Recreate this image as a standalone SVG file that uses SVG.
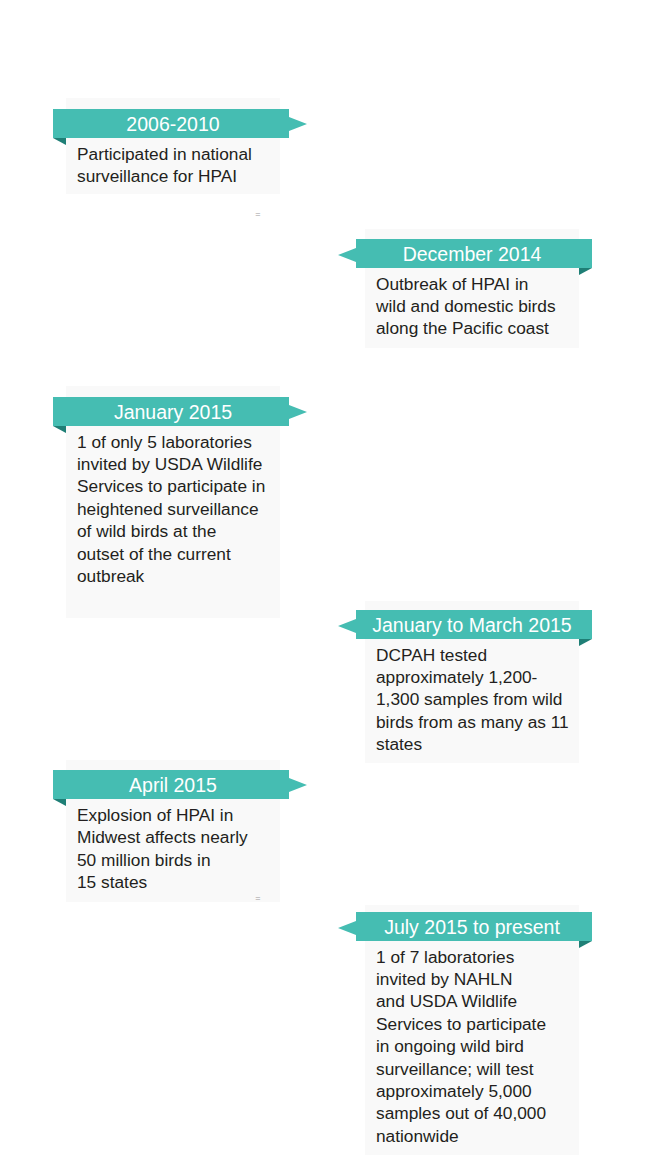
<svg xmlns="http://www.w3.org/2000/svg" width="650" height="1164" viewBox="0 0 650 1164">
<style>
.card{fill:#f9f9f9}
.band{fill:#45bdb2}
.fold{fill:#1f7f76}
.title{font-family:"Liberation Sans",Arial,sans-serif;font-size:19.5px;fill:#ffffff;text-anchor:middle}
.body{font-family:"Liberation Sans",Arial,sans-serif;font-size:17.3px;fill:#231f20}
.mark{font-family:"Liberation Sans",Arial,sans-serif;font-size:9px;fill:#9a9a9a;text-anchor:middle}
</style>
<rect width="650" height="1164" fill="#ffffff"/>
<g id="node-2006">
<rect class="card" x="66" y="98" width="214" height="96"/>
<path class="band" d="M53 109H289V117L307 124L289 131V138H53Z"/>
<path class="fold" d="M53 138H66V145Z"/>
<text class="title" x="173" y="131">2006-2010</text>
<text class="body" x="77" y="159.5">Participated in national</text>
<text class="body" x="77" y="181.5">surveillance for HPAI</text>
</g>
<text class="mark" x="258" y="217">=</text>
<g id="node-dec2014">
<rect class="card" x="365" y="229" width="214" height="119"/>
<path class="band" d="M356 239H592V268H356V262L338 255L356 248Z"/>
<path class="fold" d="M579 268H592L579 275Z"/>
<text class="title" x="472" y="261">December 2014</text>
<text class="body" x="376" y="290">Outbreak of HPAI in</text>
<text class="body" x="376" y="312">wild and domestic birds</text>
<text class="body" x="376" y="334">along the Pacific coast</text>
</g>
<g id="node-jan2015">
<rect class="card" x="66" y="386" width="214" height="232"/>
<path class="band" d="M53 397H289V405L307 412L289 419V426H53Z"/>
<path class="fold" d="M53 426H66V433Z"/>
<text class="title" x="173" y="419">January 2015</text>
<text class="body" x="77" y="447.5">1 of only 5 laboratories</text>
<text class="body" x="77" y="469.9">invited by USDA Wildlife</text>
<text class="body" x="77" y="492.3">Services to participate in</text>
<text class="body" x="77" y="514.7">heightened surveillance</text>
<text class="body" x="77" y="537.1">of wild birds at the</text>
<text class="body" x="77" y="559.5">outset of the current</text>
<text class="body" x="77" y="581.9">outbreak</text>
</g>
<g id="node-janmar2015">
<rect class="card" x="365" y="601" width="214" height="162"/>
<path class="band" d="M356 610H592V639H356V633L338 626L356 619Z"/>
<path class="fold" d="M579 639H592L579 646Z"/>
<text class="title" x="472" y="632">January to March 2015</text>
<text class="body" x="376" y="660.5">DCPAH tested</text>
<text class="body" x="376" y="682.9">approximately 1,200-</text>
<text class="body" x="376" y="705.3">1,300 samples from wild</text>
<text class="body" x="376" y="727.7">birds from as many as 11</text>
<text class="body" x="376" y="750.1">states</text>
</g>
<g id="node-apr2015">
<rect class="card" x="66" y="760" width="214" height="142"/>
<path class="band" d="M53 770H289V778L307 785L289 792V799H53Z"/>
<path class="fold" d="M53 799H66V806Z"/>
<text class="title" x="173" y="792">April 2015</text>
<text class="body" x="77" y="821">Explosion of HPAI in</text>
<text class="body" x="77" y="843.4">Midwest affects nearly</text>
<text class="body" x="77" y="865.8">50 million birds in</text>
<text class="body" x="77" y="888.2">15 states</text>
</g>
<text class="mark" x="258" y="901">=</text>
<g id="node-jul2015">
<rect class="card" x="365" y="905" width="214" height="250"/>
<path class="band" d="M356 912H592V941H356V935L338 928L356 921Z"/>
<path class="fold" d="M579 941H592L579 948Z"/>
<text class="title" x="472" y="934">July 2015 to present</text>
<text class="body" x="376" y="962.5">1 of 7 laboratories</text>
<text class="body" x="376" y="984.9">invited by NAHLN</text>
<text class="body" x="376" y="1007.3">and USDA Wildlife</text>
<text class="body" x="376" y="1029.7">Services to participate</text>
<text class="body" x="376" y="1052.1">in ongoing wild bird</text>
<text class="body" x="376" y="1074.5">surveillance; will test</text>
<text class="body" x="376" y="1096.9">approximately 5,000</text>
<text class="body" x="376" y="1119.3">samples out of 40,000</text>
<text class="body" x="376" y="1141.7">nationwide</text>
</g>
<g id="connectors"></g>
</svg>
